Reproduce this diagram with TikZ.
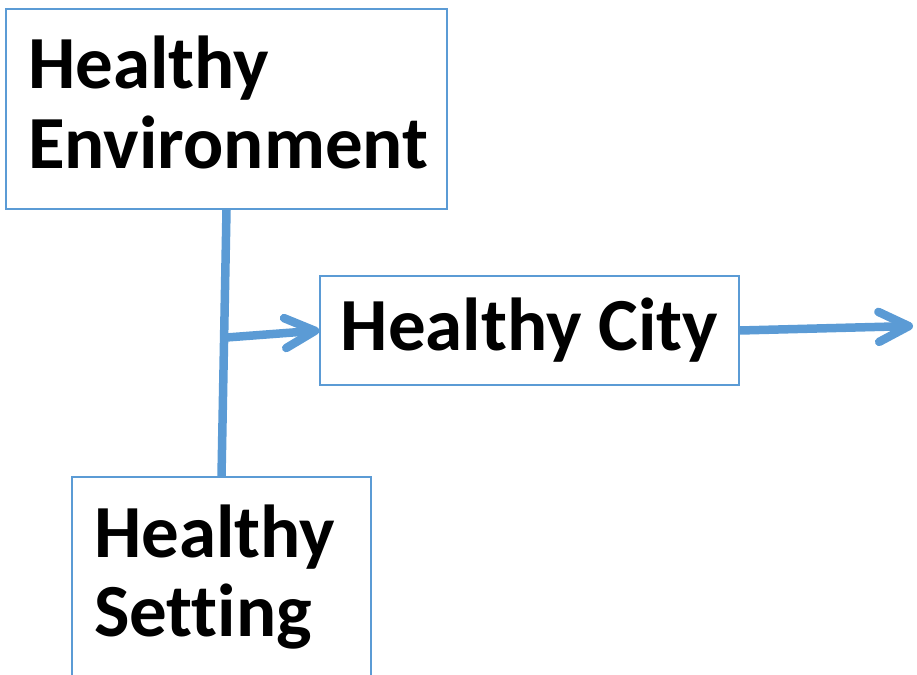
\documentclass[tikz,border=0pt]{standalone}
\usepackage{fontspec}
\setmainfont{Carlito}[Ligatures=CommonOff]
\usetikzlibrary{arrows.meta}
\definecolor{hblue}{HTML}{5B9BD5}

\begin{document}
\begin{tikzpicture}[x=1pt,y=1pt,>={Straight Barb[length=30pt,width=30pt,round]},
  box/.style={draw=hblue,line width=1.5pt,align=left,inner xsep=22pt,inner ysep=0pt,
    text height=80pt,text depth=120pt,font=\fontsize{75}{79}\selectfont\bfseries},
  link/.style={draw=hblue,line width=8.5pt}]
  \useasboundingbox (0,0) rectangle (917,-674);
  \node[box,text width=397pt] (env) at (226.5,-109) {Healthy\\Environment};
  \node[box,minimum width=419pt,inner xsep=0pt,text height=74pt,text depth=35pt] (city) at (529.5,-330.5) {Healthy City};
  \node[box,text width=255pt] (setting) at (221.5,-577) {Healthy\\Setting};
  \coordinate (out) at (913,-326);

  \draw[link] (env.south) -- coordinate[pos=0.48] (fork) (setting.north);
  \draw[link,->] (fork) -- (city.west);
  \draw[link,->] (city.east) -- (out);
\end{tikzpicture}
\end{document}
